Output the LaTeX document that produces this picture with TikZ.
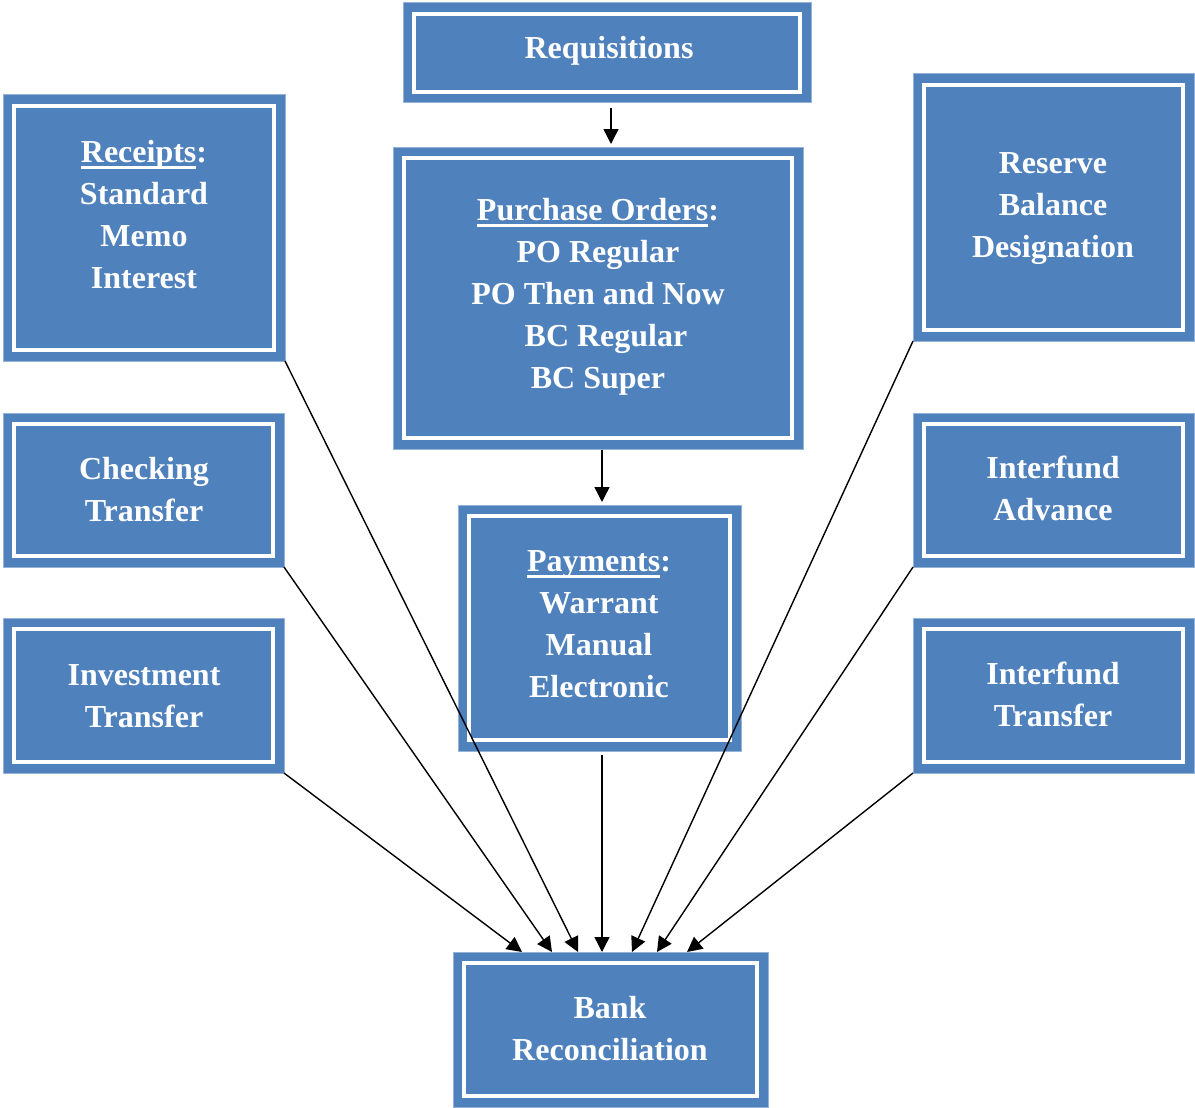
\documentclass[tikz,border=0pt]{standalone}
\usepackage{fontspec}
\setmainfont{Liberation Serif}
\usetikzlibrary{arrows.meta}
\definecolor{boxblue}{HTML}{4F81BD}
\definecolor{boxedge}{HTML}{95B3D7}
\newcommand\myul[1]{\setbox0\hbox{#1}\rlap{\rule[-6.5pt]{\wd0}{2.6pt}}\box0}
\newcommand\mylines[1]{\begin{tabular}[t]{@{}c@{}}#1\end{tabular}}
\begin{document}
\begin{tikzpicture}[x=1pt,y=-1pt,
  blbox/.style={rectangle, fill=boxblue, draw=boxedge, line width=1pt, inner sep=0pt, outer sep=0pt},
  txt/.style={anchor=base, text=white, inner sep=0pt, font=\fontsize{32}{42.2}\selectfont\bfseries},
  conn/.style={line width=1.4pt, -{Triangle[length=15pt,width=15pt]}}]
\useasboundingbox (0,0) rectangle (1195,1108);
% boxes
\node[blbox, minimum width=408pt, minimum height=100pt] (req) at (607,53) {};
\node[blbox, minimum width=282pt, minimum height=266pt] (rec) at (144,228) {};
\node[blbox, minimum width=410pt, minimum height=302pt] (po) at (598,298) {};
\node[blbox, minimum width=281pt, minimum height=267pt] (res) at (1053.5,207.5) {};
\node[blbox, minimum width=281pt, minimum height=154pt] (chk) at (143.5,490) {};
\node[blbox, minimum width=281pt, minimum height=154pt] (adv) at (1053.5,490) {};
\node[blbox, minimum width=283pt, minimum height=246pt] (pay) at (599.5,628) {};
\node[blbox, minimum width=281pt, minimum height=155pt] (inv) at (143.5,695.5) {};
\node[blbox, minimum width=281pt, minimum height=155pt] (trf) at (1053.5,695.5) {};
\node[blbox, minimum width=315pt, minimum height=155pt] (bank) at (610.5,1029.5) {};
% inner white frames
\foreach \n in {req,rec,po,res,chk,adv,pay,inv,trf,bank}
  \draw[white, line width=4pt] ([xshift=11pt,yshift=-11pt]\n.north west) rectangle ([xshift=-11pt,yshift=11pt]\n.south east);
% texts
\node[txt] (reqT) at (609,59) {\mylines{Requisitions}};
\node[txt] (recT) at (144,162) {\mylines{\myul{Receipts}:\\Standard\\Memo\\Interest}};
\node[txt] (poT) at (598,220) {\mylines{\myul{Purchase Orders}:\\PO Regular\\PO Then and Now\\\hspace*{16pt}BC Regular\\BC Super}};
\node[txt] (resT) at (1053,173) {\mylines{Reserve\\Balance\\Designation}};
\node[txt] (chkT) at (144,479) {\mylines{Checking\\Transfer}};
\node[txt] (advT) at (1053,478) {\mylines{Interfund\\Advance}};
\node[txt] (payT) at (599,571) {\mylines{\myul{Payments}:\\Warrant\\Manual\\Electronic}};
\node[txt] (invT) at (144,685) {\mylines{Investment\\Transfer}};
\node[txt] (trfT) at (1053,684) {\mylines{Interfund\\Transfer}};
\node[txt] (bankT) at (610,1018) {\mylines{Bank\\Reconciliation}};
% connectors
\draw[conn, shorten >=3pt] ([xshift=4pt,yshift=-5pt]req.south) -- ([xshift=13pt]po.north);
\draw[conn, shorten >=3pt] ([xshift=4pt,yshift=-1pt]po.south) -- ([xshift=2.5pt]pay.north);
\draw[conn] (rec.south east) -- ([xshift=-32.5pt]bank.north);
\draw[conn] (chk.south east) -- ([xshift=-58.5pt]bank.north);
\draw[conn] (inv.south east) -- ([xshift=-88.5pt]bank.north);
\draw[conn] ([xshift=2.5pt,yshift=-4pt]pay.south) -- ([xshift=-8.5pt]bank.north);
\draw[conn] (res.south west) -- ([xshift=21.5pt]bank.north);
\draw[conn] (adv.south west) -- ([xshift=46.5pt]bank.north);
\draw[conn] (trf.south west) -- ([xshift=76.5pt]bank.north);
\end{tikzpicture}
\end{document}
